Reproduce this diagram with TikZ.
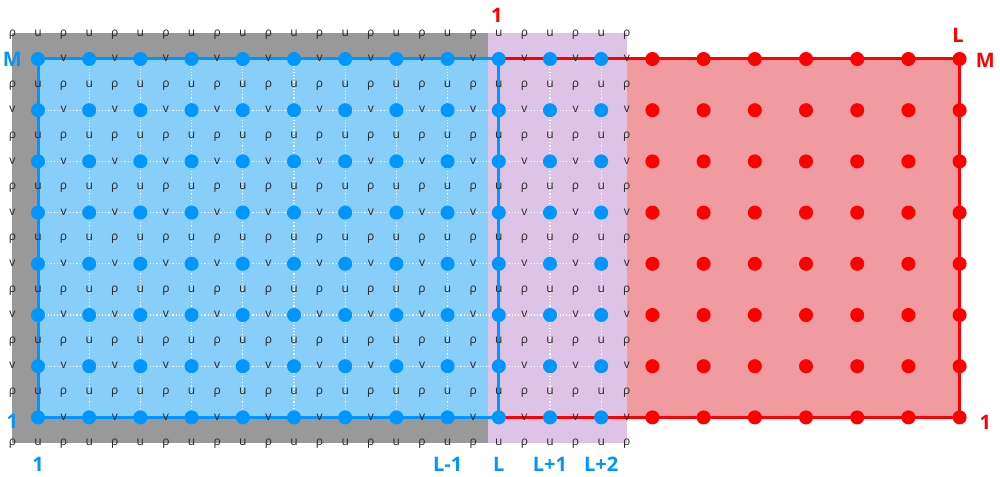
\documentclass[tikz,border=0pt]{standalone}
\usepackage{fontspec}
\setmainfont{Open Sans}
\definecolor{bluec}{RGB}{0,150,255}
\definecolor{lightb}{RGB}{135,206,248}
\definecolor{grayc}{RGB}{153,153,153}
\definecolor{purp}{RGB}{221,196,230}
\definecolor{redf}{RGB}{240,155,160}
\definecolor{redc}{RGB}{255,0,0}
\begin{document}
\begin{tikzpicture}[x=51.2pt,y=-51.2pt,
  lbl/.style={font=\fontsize{12}{12}\selectfont, text=black!85, inner sep=0pt, text height=1ex, text depth=0pt},
  bignum/.style={font=\fontsize{20}{20}\selectfont\bfseries, inner sep=0pt},
  bdot/.style={circle, fill=bluec, inner sep=0pt, minimum size=14pt},
  rdot/.style={circle, fill=redc, inner sep=0pt, minimum size=14pt},
  gridline/.style={white, dotted, line width=1.2pt},
  bline/.style={bluec, line width=3pt},
  rline/.style={redc, line width=3pt}]
\useasboundingbox (-0.74219,-1.15234) rectangle (18.78906,8.14453);
\fill[grayc] (-0.5,-0.5) rectangle (8.789,7.5);
\fill[lightb] (0,0) rectangle (9,7);
\fill[purp] (8.789,-0.5) rectangle (11.5,7.5);
\fill[redf] (11.5,0) rectangle (18,7);
\foreach \i in {0,...,18} \foreach \j in {0,...,7} \coordinate (p-\i-\j) at (\i,\j);
\foreach \i in {1,...,11} \draw[gridline] (p-\i-0) -- (p-\i-7);
\foreach \j in {1,...,6} \draw[gridline] (p-0-\j) -- (p-11-\j);
\draw[rline] (p-9-0) -- (p-18-0) -- (p-18-7) -- (p-9-7);
\draw[bline] (p-9-0) -- (p-0-0) -- (p-0-7) -- (p-9-7) -- cycle;
\foreach \i in {0,...,11} \foreach \j in {0,...,7} \node[bdot] (n-\i-\j) at (p-\i-\j) {};
\foreach \i in {12,...,18} \foreach \j in {0,...,7} \node[rdot] (n-\i-\j) at (p-\i-\j) {};
\foreach \j in {0,...,8} {
  \foreach \i in {0,...,12} \node[lbl] (r-\i-\j) at (\i-0.5,\j-0.5) {ρ};
  \foreach \i in {0,...,11} \node[lbl] (u-\i-\j) at (\i,\j-0.5) {u};
}
\foreach \j in {1,...,6} \foreach \i in {0,...,12} \node[lbl] (v-\i-\j) at (\i-0.5,\j) {v};
\foreach \j in {0,7} \foreach \i in {1,...,12} \node[lbl] (v-\i-\j) at (\i-0.5,\j) {v};
\node[bignum, text=bluec] (bM) at (-0.5,0) {M};
\node[bignum, text=bluec] (b1l) at (-0.5,7.07) {1};
\node[bignum, text=bluec] (b1) at (0,7.91) {1};
\node[bignum, text=bluec] (bL1) at (8,7.91) {L-1};
\node[bignum, text=bluec] (bL) at (9,7.91) {L};
\node[bignum, text=bluec] (bLp1) at (10,7.91) {L+1};
\node[bignum, text=bluec] (bLp2) at (11,7.91) {L+2};
\node[bignum, text=redc] (r1t) at (8.96,-0.86) {1};
\node[bignum, text=redc] (rL) at (17.97,-0.47) {L};
\node[bignum, text=redc] (rM) at (18.5,0.02) {M};
\node[bignum, text=redc] (r1r) at (18.5,7.09) {1};
\end{tikzpicture}
\end{document}
